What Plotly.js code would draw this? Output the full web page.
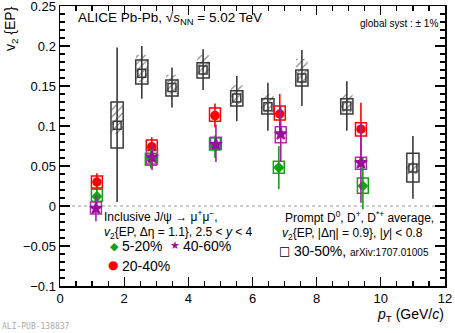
<!DOCTYPE html>
<html><head><meta charset="utf-8">
<script src="https://cdn.plot.ly/plotly-3.0.1.min.js"></script>
<style>body{margin:0;padding:0;background:#fff}#chart{width:455px;height:333px}</style>
</head><body><div id="chart"></div>
<script>
// J/psi 5-20%
const gX = [1.15, 2.83, 4.83, 6.82, 9.44];
const gY = [0.012, 0.059, 0.075, 0.048, 0.025];
const gErrUp = [0.010, 0.012, 0.013, 0.027, 0.035];
const gErrDn = [0.010, 0.012, 0.015, 0.027, 0.029];
const gSysLo = [0.006, 0.051, 0.070, 0.041, 0.016];
const gSysHi = [0.021, 0.066, 0.085, 0.056, 0.035];
// J/psi 20-40%
const rX = [1.15, 2.86, 4.83, 6.85, 9.38];
const rY = [0.030, 0.074, 0.113, 0.115, 0.096];
const rErrUp = [0.011, 0.012, 0.015, 0.025, 0.033];
const rErrDn = [0.011, 0.012, 0.015, 0.025, 0.033];
const rSysLo = [0.0225, 0.0695, 0.106, 0.1075, 0.0875];
const rSysHi = [0.0375, 0.0825, 0.1225, 0.125, 0.104];
// J/psi 40-60%
const pX = [1.12, 2.87, 4.86, 6.88, 9.38];
const pY = [-0.003, 0.061, 0.077, 0.090, 0.054];
const pErrUp = [0.016, 0.016, 0.025, 0.035, 0.050];
const pErrDn = [0.016, 0.016, 0.022, 0.035, 0.050];
const pSysLo = [-0.010, 0.0525, 0.071, 0.079, 0.046];
const pSysHi = [0.005, 0.070, 0.086, 0.099, 0.061];
// Prompt D 30-50%
const dX = [1.78, 2.55, 3.49, 4.46, 5.51, 6.48, 7.54, 8.94, 11.0];
const dY = [0.101, 0.166, 0.148, 0.170, 0.135, 0.124, 0.160, 0.125, 0.0475];
const dErrUp = [0.097, 0.034, 0.025, 0.026, 0.0275, 0.030, 0.035, 0.031, 0.040];
const dErrDn = [0.096, 0.032, 0.025, 0.025, 0.029, 0.030, 0.035, 0.031, 0.0385];
const dSysLo = [0.0725, 0.1525, 0.1375, 0.160, 0.125, 0.115, 0.150, 0.115, 0.030];
const dSysHi = [0.130, 0.1825, 0.1575, 0.179, 0.144, 0.134, 0.170, 0.134, 0.066];
const dFdLo = [0.090, 0.155, 0.140, 0.163, 0.127, 0.117, 0.153, 0.117, 0.040];
const dFdHi = [0.128, 0.189, 0.164, 0.189, 0.151, 0.140, 0.184, 0.140, 0.055];

const GREEN = '#17a017', RED = '#ff0000', PURPLE = '#9a109a', PURPLEBOX = '#b030b0', DARK = '#3a3a3a';

function boxTrace(x, lo, hi, color, w) {
  return {type: 'bar', x: x, base: lo, y: hi.map((h, i) => h - lo[i]), width: w,
    marker: {color: 'rgba(0,0,0,0)', line: {color: color, width: 1.5}},
    hoverinfo: 'skip', showlegend: false};
}
function hatchTrace(x, lo, hi, w) {
  return {type: 'bar', x: x, base: lo, y: hi.map((h, i) => h - lo[i]), width: w,
    marker: {color: 'rgba(0,0,0,0)', line: {width: 0},
      pattern: {shape: '/', fgcolor: '#888', bgcolor: 'rgba(0,0,0,0)', size: 5, solidity: 0.25}},
    hoverinfo: 'skip', showlegend: false};
}
function ptTrace(x, y, up, dn, color, symbol, size, lcolor) {
  return {type: 'scatter', mode: 'markers', x: x, y: y,
    error_y: {type: 'data', symmetric: false, array: up, arrayminus: dn, color: lcolor || color, thickness: 1.6, width: 0},
    marker: {color: color, symbol: symbol, size: size, line: {color: color, width: 1.5}},
    showlegend: false};
}

const data = [
  hatchTrace(dX, dFdLo, dFdHi, 0.36),
  boxTrace(dX, dSysLo, dSysHi, DARK, 0.38),
  boxTrace(gX, gSysLo, gSysHi, GREEN, 0.34),
  boxTrace(rX, rSysLo, rSysHi, RED, 0.34),
  boxTrace(pX, pSysLo, pSysHi, PURPLEBOX, 0.34),
  ptTrace(dX, dY, dErrUp, dErrDn, DARK, 'square-open', 8),
  ptTrace(rX, rY, rErrUp, rErrDn, RED, 'circle', 8),
  ptTrace(gX, gY, gErrUp, gErrDn, GREEN, 'diamond', 7),
  ptTrace(pX, pY, pErrUp, pErrDn, PURPLE, 'star', 9, '#a020a0')
];

const F = 'Liberation Sans, Arial, sans-serif';
function ann(text, x, y, size, xanchor, extra) {
  return Object.assign({text: text, x: x, y: y, xref: 'paper', yref: 'paper', showarrow: false,
    xanchor: xanchor || 'left', yanchor: 'middle', font: {family: F, size: size, color: '#000'}}, extra || {});
}
// paper coords: plot spans px 60..445 horizontally, 6..286 vertically
function px(xp) { return (xp - 60) / 385; }
function py(yp) { return (286 - yp) / 280; }

const layout = {
  width: 455, height: 333,
  margin: {l: 60, r: 10, t: 6, b: 47},
  paper_bgcolor: '#fff', plot_bgcolor: '#fff',
  barmode: 'overlay', showlegend: false,
  font: {family: F, size: 13, color: '#000'},
  xaxis: {range: [0, 12], dtick: 2, tick0: 0, ticks: 'inside', ticklen: 9, tickwidth: 1.2, tickcolor: '#000',
    showline: true, linecolor: '#000', linewidth: 1.5, mirror: 'allticks', showgrid: false, zeroline: false,
    tickfont: {family: F, size: 13}, ticklabeloverflow: 'allow',
    minor: {dtick: 0.5, ticks: 'inside', ticklen: 5, tickcolor: '#000', showgrid: false}},
  yaxis: {range: [-0.1, 0.25], dtick: 0.05, tick0: 0, ticks: 'inside', ticklen: 10, tickwidth: 1.2, tickcolor: '#000',
    showline: true, linecolor: '#000', linewidth: 1.5, mirror: 'allticks', showgrid: false, zeroline: false,
    tickfont: {family: F, size: 13}, ticklabeloverflow: 'allow',
    minor: {dtick: 0.01, ticks: 'inside', ticklen: 5, tickcolor: '#000', showgrid: false}},
  shapes: [{type: 'line', xref: 'paper', yref: 'y', x0: 0, x1: 1, y0: 0, y1: 0,
    line: {color: '#999', width: 1.2, dash: 'dot'}, layer: 'below'}],
  annotations: [
    ann('ALICE Pb-Pb, √<i>s</i><sub>NN</sub> = 5.02 TeV', px(76), py(19), 13.5),
    ann('global syst : ± 1%', px(440), py(23), 10, 'right'),
    ann('Inclusive J/ψ → μ<sup>+</sup>μ<sup>−</sup>,', px(102), py(216), 12),
    ann('<i>v</i><sub>2</sub>{EP, Δη = 1.1}, 2.5 < <i>y</i> < 4', px(102), py(233), 12),
    ann('◆', px(108), py(246), 11, 'left', {font: {family: 'DejaVu Sans', size: 11, color: GREEN}}),
    ann('5-20%', px(120), py(246), 14),
    ann('★', px(168), py(245), 12, 'left', {font: {family: 'DejaVu Sans', size: 11, color: PURPLE}}),
    ann('40-60%', px(181), py(246), 14),
    ann('●', px(106), py(265), 12, 'left', {font: {family: 'DejaVu Sans', size: 12, color: RED}}),
    ann('20-40%', px(120), py(266), 14),
    ann('Prompt D<sup>0</sup>, D<sup>+</sup>, D<sup>*+</sup> average,', px(436), py(217), 12, 'right'),
    ann('<i>v</i><sub>2</sub>{EP, |Δη| = 0.9}, |<i>y</i>| < 0.8', px(425), py(234), 12, 'right'),
    ann('□', px(277), py(251), 11, 'left', {font: {family: 'DejaVu Sans', size: 12, color: '#000'}}),
    ann('30-50%, <span style="font-size:10px">arXiv:1707.01005</span>', px(292), py(251), 14),
    ann('<i>p</i><sub>T</sub> (GeV/<i>c</i>)', px(446), py(315), 14, 'right'),
    ann('v<sub>2</sub> {EP}', px(11), py(29), 14, 'center', {textangle: -90}),
    ann('ALI-PUB-138837', px(0), py(326), 8, 'left', {font: {family: 'DejaVu Sans Mono', size: 8, color: '#aaa'}})
  ]
};

Plotly.newPlot('chart', data, layout, {displayModeBar: false, staticPlot: true});
</script></body></html>
